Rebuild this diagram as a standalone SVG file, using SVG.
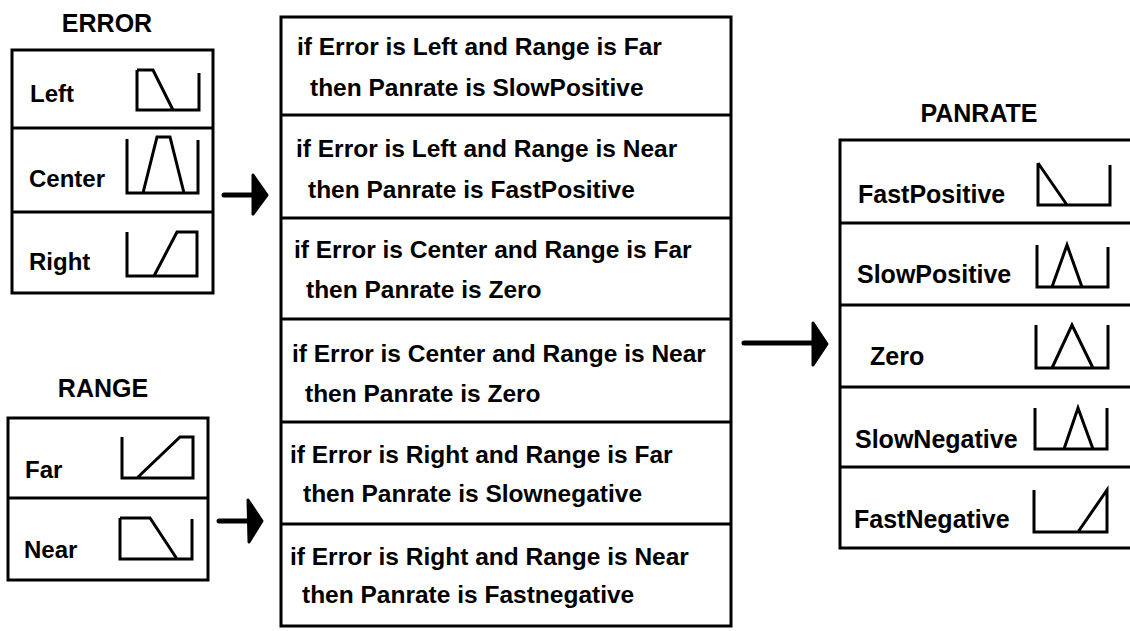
<svg xmlns="http://www.w3.org/2000/svg" width="1130" height="631" viewBox="0 0 1130 631">
<style>
text{font-family:"Liberation Sans",Arial,sans-serif;font-weight:bold;fill:#000}
.t{font-size:25px;text-anchor:middle}
.l{font-size:24px}
.p{font-size:25px}
.r{font-size:24.5px}
.box{fill:#fff;stroke:#000;stroke-width:3}
.div{stroke:#000;stroke-width:3}
.ic{fill:none;stroke:#000;stroke-width:3;stroke-linejoin:miter}
.ar{stroke:#000;stroke-width:5;stroke-linecap:round}
.ah{fill:#000;stroke:#000;stroke-width:3;stroke-linejoin:round}
</style>
<rect width="1130" height="631" fill="#fff"/>

<g id="error">
<text class="t" x="107" y="32">ERROR</text>
<rect class="box" x="12" y="50" width="201" height="243"/>
<line class="div" x1="12" y1="128" x2="213" y2="128"/>
<line class="div" x1="12" y1="212" x2="213" y2="212"/>
<text class="l" x="30" y="102">Left</text>
<text class="l" x="29" y="187">Center</text>
<text class="l" x="29" y="270">Right</text>
<path class="ic" d="M137,70 V110 H199 V73 M137,70 H153 L173,110"/>
<path class="ic" d="M127,139 V193 H198 V140 M143,193 L157,137 H170 L184,193"/>
<path class="ic" d="M127,232 V276 H197 V232 H177 L154,276"/>
</g>

<g id="range">
<text class="t" x="103" y="397">RANGE</text>
<rect class="box" x="8" y="418" width="200" height="162"/>
<line class="div" x1="8" y1="498" x2="208" y2="498"/>
<text class="l" x="25" y="478">Far</text>
<text class="l" x="24" y="558">Near</text>
<path class="ic" d="M122,437 V478 H193 V437 H180 L137,478"/>
<path class="ic" d="M120,518 V559 H192 V519 M120,518 H150 L177,559"/>
</g>

<g id="rules">
<rect class="box" x="281" y="17" width="450" height="609"/>
<line class="div" x1="281" y1="115" x2="731" y2="115"/>
<line class="div" x1="281" y1="218" x2="731" y2="218"/>
<line class="div" x1="281" y1="319" x2="731" y2="319"/>
<line class="div" x1="281" y1="422" x2="731" y2="422"/>
<line class="div" x1="281" y1="524" x2="731" y2="524"/>
<text class="r" x="297" y="55">if Error is Left and Range is Far</text>
<text class="r" x="310" y="96">then Panrate is SlowPositive</text>
<text class="r" x="296" y="157">if Error is Left and Range is Near</text>
<text class="r" x="308" y="198">then Panrate is FastPositive</text>
<text class="r" x="294" y="258">if Error is Center and Range is Far</text>
<text class="r" x="306" y="298">then Panrate is Zero</text>
<text class="r" x="292" y="362">if Error is Center and Range is Near</text>
<text class="r" x="305" y="402">then Panrate is Zero</text>
<text class="r" x="290" y="463">if Error is Right and Range is Far</text>
<text class="r" x="303" y="502">then Panrate is Slownegative</text>
<text class="r" x="290" y="565">if Error is Right and Range is Near</text>
<text class="r" x="302" y="603">then Panrate is Fastnegative</text>
</g>

<g id="panrate">
<text class="t" x="979" y="122">PANRATE</text>
<rect class="box" x="840" y="140" width="300" height="408"/>
<line class="div" x1="840" y1="223" x2="1140" y2="223"/>
<line class="div" x1="840" y1="305" x2="1140" y2="305"/>
<line class="div" x1="840" y1="387" x2="1140" y2="387"/>
<line class="div" x1="840" y1="467" x2="1140" y2="467"/>
<text class="p" x="858" y="203">FastPositive</text>
<text class="p" x="857" y="283">SlowPositive</text>
<text class="p" x="870" y="365">Zero</text>
<text class="p" x="855" y="448">SlowNegative</text>
<text class="p" x="854" y="528">FastNegative</text>
<path class="ic" d="M1038,163 V205 H1110 V165 M1038,163 L1067,205"/>
<path class="ic" d="M1037,245 V287 H1108 V247 M1052,287 L1067,245 L1082,287"/>
<path class="ic" d="M1036,325 V368 H1108 V325 M1052,368 L1072,325 L1093,368"/>
<path class="ic" d="M1035,408 V449 H1107 V408 M1064,449 L1078,408 L1093,449"/>
<path class="ic" d="M1034,490 V532 H1107 V490 L1078,532"/>
</g>

<g id="connectors">
<line class="ar" x1="224" y1="195" x2="254" y2="195"/>
<polygon class="ah" points="253,175 267,195 253,214"/>
<line class="ar" x1="219" y1="521" x2="249" y2="521"/>
<polygon class="ah" points="248,500 262,521 249,542"/>
<line class="ar" x1="744" y1="343" x2="814" y2="343"/>
<polygon class="ah" points="813,323 827,344 813,365"/>
</g>
</svg>
